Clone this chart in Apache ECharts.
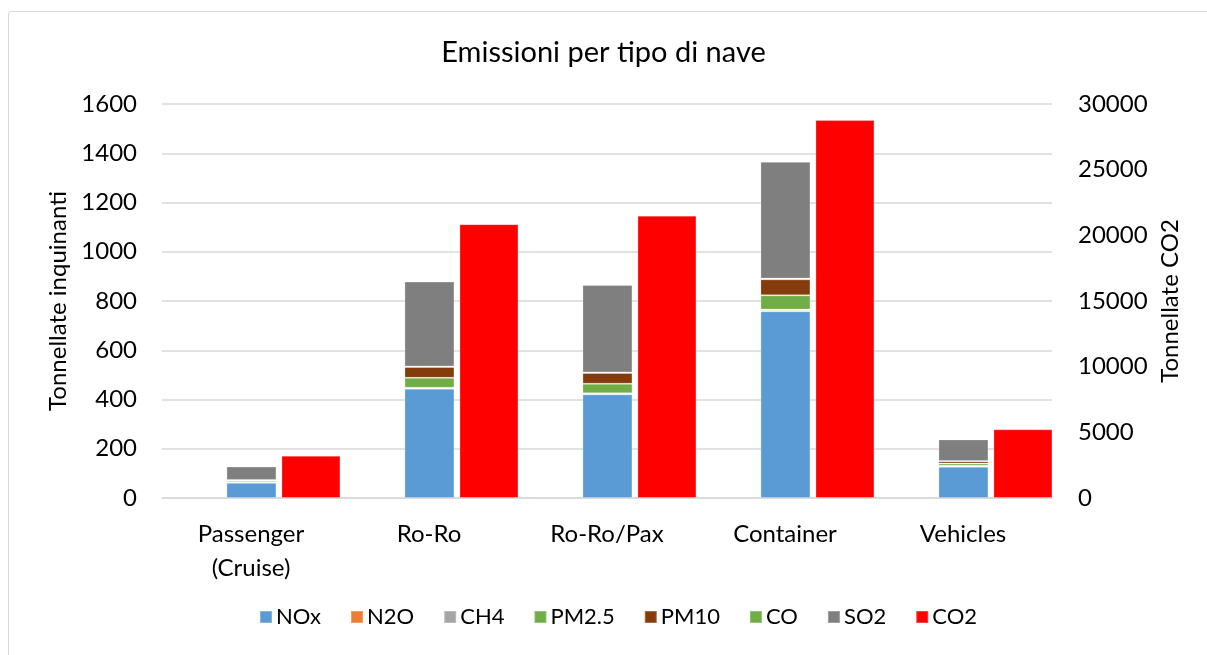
<!DOCTYPE html>
<html>
<head>
<meta charset="utf-8">
<title>Emissioni per tipo di nave</title>
<script src="https://cdn.jsdelivr.net/npm/echarts@6/dist/echarts.min.js"></script>
<style>
  html, body { margin: 0; padding: 0; background: #fff; overflow: hidden; }
  #main { width: 1207px; height: 655px; }
  /* bordo del riquadro, come nel grafico Excel (esce in basso a destra) */
  #frame {
    position: absolute; left: 8px; top: 11px;
    width: 1220px; height: 670px;
    border: 1px solid #d9d9d9; border-radius: 3px;
    pointer-events: none;
  }
</style>
</head>
<body>
<div id="main"></div>
<div id="frame"></div>
<script>
// dati
const categories = ['Passenger\n(Cruise)', 'Ro-Ro', 'Ro-Ro/Pax', 'Container', 'Vehicles'];
const nox  = [62, 444, 421, 758, 127];
const n2o  = [0.5, 3, 3, 5, 1];
const ch4  = [0.5, 1, 1, 2, 3];
const pm25 = [6, 40, 39, 58, 9];
const pm10 = [4, 44, 44, 65, 9];
const co   = [0.5, 2, 2, 3, 1];
const so2  = [54, 345, 355, 474, 88];
const co2  = [3220, 20850, 21500, 28780, 5230];

const leftTicks = { min: 0, max: 1600, interval: 200 };
const rightTicks = { min: 0, max: 30000, interval: 5000 };

const FONT = 'Lato, "Open Sans", sans-serif';
const pollutants = [
  { name: 'NOx', data: nox, color: '#5B9BD5' },
  { name: 'N2O', data: n2o, color: '#ED7D31' },
  { name: 'CH4', data: ch4, color: '#A5A5A5' },
  { name: 'PM2.5', data: pm25, color: '#70AD47' },
  { name: 'PM10', data: pm10, color: '#843C0C' },
  { name: 'CO', data: co, color: '#70AD47' },
  { name: 'SO2', data: so2, color: '#7F7F7F' }
];

var chart = echarts.init(document.getElementById('main'));

var series = [];
// colonna vuota a sinistra, serve solo a centrare la pila sulla categoria
series.push({
  name: '_pad', type: 'bar', stack: 'pad', yAxisIndex: 0,
  barWidth: 59, barGap: '10%',
  data: categories.map(() => null),
  silent: true
});
pollutants.forEach(p => {
  series.push({
    name: p.name, type: 'bar', stack: 'inq', yAxisIndex: 0,
    barWidth: 50, barGap: '10%',
    data: p.data,
    itemStyle: { color: p.color, borderColor: 'rgba(255,255,255,0.25)', borderWidth: 1 }
  });
});
series.push({
  name: 'CO2', type: 'bar', yAxisIndex: 1,
  barWidth: 59, barGap: '10%',
  data: co2,
  itemStyle: { color: '#FF0000', borderColor: 'rgba(255,255,255,0.25)', borderWidth: 1 }
});

var plain = v => String(v); // niente separatore delle migliaia

var option = {
  backgroundColor: '#ffffff',
  animation: false,
  textStyle: { fontFamily: FONT },
  title: {
    text: 'Emissioni per tipo di nave',
    left: 'center',
    top: 33,
    textStyle: { fontFamily: FONT, fontSize: 29, fontWeight: 'normal', color: '#000' }
  },
  legend: {
    data: ['NOx', 'N2O', 'CH4', 'PM2.5', 'PM10', 'CO', 'SO2', 'CO2'],
    bottom: 22,
    left: 254,
    itemWidth: 12,
    itemHeight: 12,
    itemGap: 29,
    icon: 'rect',
    textStyle: { fontFamily: FONT, fontSize: 22, color: '#000', padding: [0, 0, 0, -1] }
  },
  grid: { left: 162, right: 155, top: 104, bottom: 157 },
  xAxis: {
    type: 'category',
    data: categories,
    axisTick: { show: false },
    axisLine: { lineStyle: { color: '#d9d9d9', width: 1.5 } },
    axisLabel: { fontSize: 24, color: '#000', margin: 19, lineHeight: 34, fontFamily: FONT }
  },
  yAxis: [
    {
      type: 'value',
      min: leftTicks.min, max: leftTicks.max, interval: leftTicks.interval,
      name: 'Tonnellate inquinanti',
      nameLocation: 'middle',
      nameGap: 74,
      nameTextStyle: { fontSize: 24, color: '#000', fontFamily: FONT },
      axisLabel: { fontSize: 24, color: '#000', margin: 25, fontFamily: FONT, formatter: plain },
      splitLine: { lineStyle: { color: '#d9d9d9', width: 1.5 } },
      axisLine: { show: false },
      axisTick: { show: false }
    },
    {
      type: 'value',
      min: rightTicks.min, max: rightTicks.max, interval: rightTicks.interval,
      name: 'Tonnellate CO2',
      nameLocation: 'middle',
      nameGap: 100,
      nameRotate: 90,
      nameTextStyle: { fontSize: 24, color: '#000', fontFamily: FONT },
      axisLabel: { fontSize: 24, color: '#000', margin: 26, fontFamily: FONT, formatter: plain },
      splitLine: { show: false },
      axisLine: { show: false },
      axisTick: { show: false }
    }
  ],
  series: series
};

chart.setOption(option);
</script>
</body>
</html>
